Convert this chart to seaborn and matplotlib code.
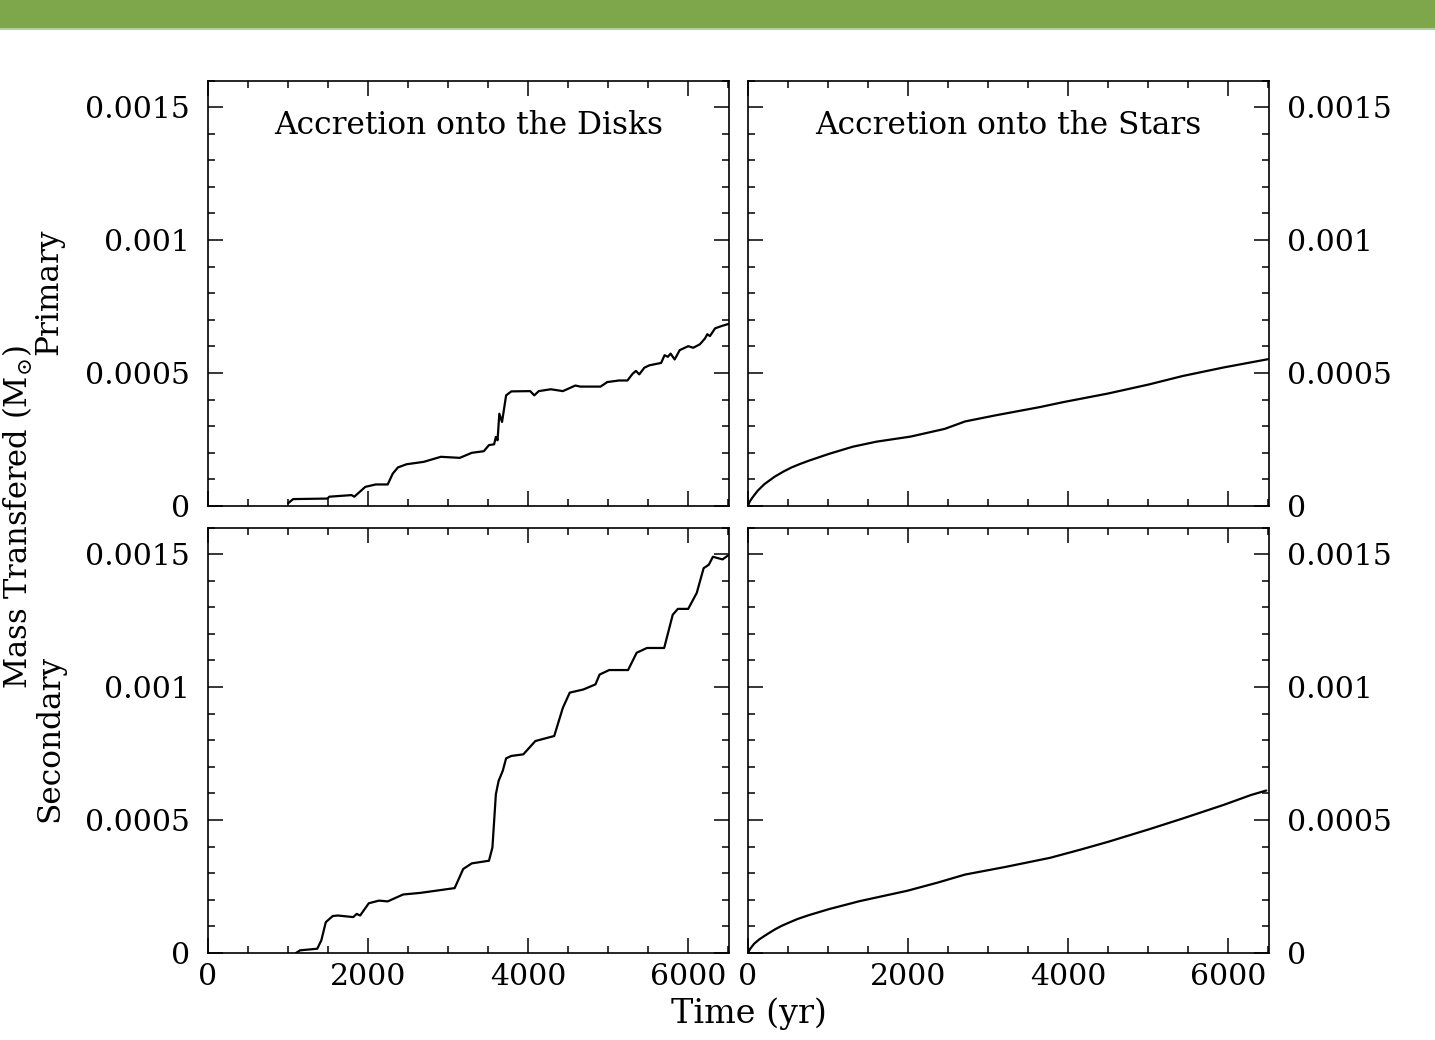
import numpy as np
import pandas as pd
import matplotlib
matplotlib.use("Agg")
import matplotlib.pyplot as plt
from matplotlib.patches import Rectangle
from matplotlib.ticker import MultipleLocator
import seaborn as sns

# ---------------- data ----------------
# Primary, accretion onto the disk
t_pd = [1000, 1064, 1494, 1515, 1794, 1828, 1966, 2095, 2245, 2309, 2373, 2481,
        2695, 2910, 3146, 3296, 3446, 3511, 3575, 3597, 3618, 3640, 3674, 3725,
        3790, 4026, 4077, 4133, 4283, 4434, 4590, 4653, 4905, 4989, 5136, 5241,
        5305, 5347, 5389, 5452, 5515, 5662, 5705, 5746, 5780, 5831, 5894, 6000,
        6063, 6146, 6210, 6239, 6272, 6336, 6420, 6510]
m_pd = [1.0e-5, 2.6e-5, 2.8e-5, 3.5e-5, 4.1e-5, 3.5e-5, 7.2e-5, 8.1e-5, 8.1e-5,
        1.22e-4, 1.45e-4, 1.57e-4, 1.66e-4, 1.85e-4, 1.81e-4, 2.00e-4, 2.06e-4,
        2.29e-4, 2.32e-4, 2.60e-4, 2.47e-4, 3.47e-4, 3.16e-4, 4.16e-4, 4.31e-4,
        4.32e-4, 4.16e-4, 4.32e-4, 4.39e-4, 4.32e-4, 4.53e-4, 4.49e-4, 4.49e-4,
        4.66e-4, 4.72e-4, 4.72e-4, 4.97e-4, 5.08e-4, 4.95e-4, 5.20e-4, 5.29e-4,
        5.38e-4, 5.67e-4, 5.61e-4, 5.73e-4, 5.51e-4, 5.86e-4, 6.01e-4, 5.95e-4,
        6.08e-4, 6.30e-4, 6.46e-4, 6.39e-4, 6.68e-4, 6.77e-4, 6.85e-4]

# Secondary, accretion onto the disk
t_sd = [1099, 1150, 1365, 1416, 1472, 1558, 1622, 1815, 1858, 1901, 2009, 2137,
        2245, 2438, 2652, 2867, 3082, 3189, 3296, 3511, 3554, 3597, 3631, 3683,
        3725, 3790, 3940, 4090, 4326, 4434, 4520, 4691, 4841, 4893, 5013, 5249,
        5356, 5485, 5700, 5807, 5871, 6000, 6107, 6193, 6258, 6309, 6429, 6494]
m_sd = [0.0, 1.0e-5, 1.6e-5, 4.75e-5, 1.16e-4, 1.39e-4, 1.41e-4, 1.35e-4,
        1.47e-4, 1.41e-4, 1.87e-4, 1.97e-4, 1.94e-4, 2.20e-4, 2.26e-4, 2.35e-4,
        2.44e-4, 3.16e-4, 3.37e-4, 3.47e-4, 3.97e-4, 5.97e-4, 6.47e-4, 6.85e-4,
        7.32e-4, 7.41e-4, 7.47e-4, 7.97e-4, 8.16e-4, 9.22e-4, 9.79e-4, 9.91e-4,
        1.010e-3, 1.047e-3, 1.064e-3, 1.064e-3, 1.129e-3, 1.147e-3, 1.147e-3,
        1.272e-3, 1.294e-3, 1.294e-3, 1.354e-3, 1.447e-3, 1.460e-3, 1.490e-3,
        1.480e-3, 1.494e-3]

# Primary, accretion onto the star
t_ps = [0, 20, 55, 119, 204, 332, 440, 544, 650, 757, 1012, 1310, 1607, 2032,
        2458, 2713, 3095, 3648, 3946, 4499, 5009, 5434, 5944, 6497]
m_ps = [0.0, 1.6e-5, 3.16e-5, 5.68e-5, 8.2e-5, 1.10e-4, 1.29e-4, 1.45e-4,
        1.58e-4, 1.70e-4, 1.96e-4, 2.23e-4, 2.42e-4, 2.61e-4, 2.90e-4, 3.18e-4,
        3.41e-4, 3.72e-4, 3.91e-4, 4.23e-4, 4.57e-4, 4.89e-4, 5.21e-4, 5.52e-4]

# Secondary, accretion onto the star
t_ss = [0, 25, 77, 140, 204, 332, 420, 502, 620, 757, 1012, 1395, 1990, 2373,
        2713, 3223, 3776, 4158, 4499, 5009, 5434, 5944, 6284, 6476]
m_ss = [0.0, 1.5e-5, 3.5e-5, 5.1e-5, 6.4e-5, 8.8e-5, 1.02e-4, 1.13e-4,
        1.28e-4, 1.42e-4, 1.65e-4, 1.95e-4, 2.34e-4, 2.65e-4, 2.95e-4, 3.24e-4,
        3.58e-4, 3.89e-4, 4.18e-4, 4.65e-4, 5.06e-4, 5.57e-4, 5.94e-4, 6.11e-4]

panel_titles = ["Accretion onto the Disks", "Accretion onto the Stars"]
row_labels = ["Primary", "Secondary"]
x_ticks = [0, 2000, 4000, 6000]
x_ticklabels = ["0", "2000", "4000", "6000"]
y_ticks = [0, 0.0005, 0.001, 0.0015]
y_ticklabels = ["0", "0.0005", "0.001", "0.0015"]

# ---------------- style ----------------
sns.set_theme(style="ticks")
plt.rcParams["font.family"] = ["DejaVu Serif"]
plt.rcParams["mathtext.fontset"] = "dejavuserif"
plt.rcParams["text.color"] = "black"
plt.rcParams["axes.labelcolor"] = "black"
plt.rcParams["xtick.color"] = "black"
plt.rcParams["ytick.color"] = "black"

fig = plt.figure(figsize=(14.35, 10.4), dpi=100)
fig.patch.set_facecolor("white")

# green banner on top
fig.patches.append(Rectangle((0, 0.973), 1, 0.027, transform=fig.transFigure,
                             facecolor="#7da74a", edgecolor="none", zorder=0))
fig.patches.append(Rectangle((0, 0.971), 1, 0.002, transform=fig.transFigure,
                             facecolor="#b5d195", edgecolor="none", zorder=0))

lefts = [208 / 1435, 748 / 1435]
width = 521 / 1435
bottoms = [1 - 506 / 1040, 1 - 953 / 1040]
height = 425.5 / 1040

series = [[(t_pd, m_pd), (t_ps, m_ps)],
          [(t_sd, m_sd), (t_ss, m_ss)]]

for r in range(2):
    for c in range(2):
        ax = fig.add_axes([lefts[c], bottoms[r], width, height])
        t, m = series[r][c]
        df = pd.DataFrame({"t": t, "m": m})
        sns.lineplot(data=df, x="t", y="m", ax=ax, color="black", lw=1.6,
                     estimator=None, sort=False)
        ax.set_xlim(0, 6510)
        ax.set_ylim(0, 0.0016)
        ax.set_xlabel("")
        ax.set_ylabel("")
        ax.set_xticks(x_ticks)
        ax.set_xticklabels(x_ticklabels)
        ax.set_yticks(y_ticks)
        ax.set_yticklabels(y_ticklabels)
        ax.xaxis.set_minor_locator(MultipleLocator(500))
        ax.yaxis.set_minor_locator(MultipleLocator(0.0001))
        for s in ax.spines.values():
            s.set_linewidth(1.2)
            s.set_color("black")
        ax.tick_params(which="both", direction="in", top=True, bottom=True,
                       left=True, right=True, colors="black", width=1.1)
        ax.tick_params(which="major", length=10.5)
        ax.tick_params(which="minor", length=5.2)
        ax.tick_params(axis="y", labelsize=21.5, pad=13)
        ax.tick_params(axis="x", labelsize=21.5, pad=7)
        ax.tick_params(labelbottom=(r == 1), labeltop=False,
                       labelleft=(c == 0), labelright=(c == 1))
        if r == 0:
            ax.text(0.5, 0.894, panel_titles[c], transform=ax.transAxes,
                    ha="center", va="center", fontsize=22.5, color="black")

fig.text(0.0125, 0.503, r"Mass Transfered (M$_{\odot}$)", rotation=90,
         ha="center", va="center", fontsize=22, color="black")
fig.text(0.034, 0.719, row_labels[0], rotation=90, ha="center", va="center",
         fontsize=22.5, color="black")
fig.text(0.035, 0.29, row_labels[1], rotation=90, ha="center", va="center",
         fontsize=22.5, color="black")
fig.text(0.522, 0.025, "Time (yr)", ha="center", va="center", fontsize=24,
         color="black")

fig.savefig("out.png", dpi=100, facecolor="white")
